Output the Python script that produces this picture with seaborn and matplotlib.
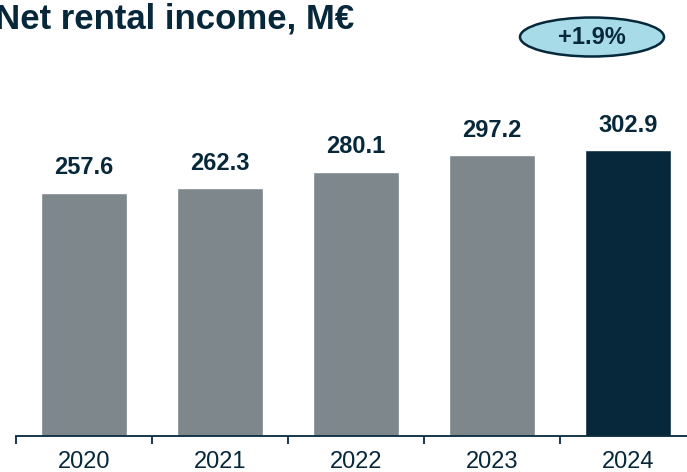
import matplotlib
matplotlib.use("Agg")
import matplotlib.pyplot as plt
import seaborn as sns
import pandas as pd
from matplotlib.patches import Ellipse
from matplotlib.ticker import FixedLocator

years = ["2020", "2021", "2022", "2023", "2024"]
income = [257.6, 262.3, 280.1, 297.2, 302.9]
highlight = ["past", "past", "past", "past", "current"]
growth_label = "+1.9%"

navy = "#06283a"
grey = "#7e878c"

df = pd.DataFrame({"year": years, "income": income, "kind": highlight})

sns.set_style("white")
plt.rcParams["font.family"] = ["Liberation Sans", "DejaVu Sans"]

fig = plt.figure(figsize=(6.87, 4.72), dpi=100)
W, H = 687, 472
ax = fig.add_axes([16 / W, 36 / H, 680 / W, 436 / H])

sns.barplot(data=df, x="year", y="income", hue="kind", dodge=False,
            palette={"past": grey, "current": navy}, width=0.63,
            legend=False, ax=ax, saturation=1)

ax.set_xlim(-0.5, 4.5)
ax.set_ylim(0, 436 / 0.944)

for i, v in enumerate(income):
    ax.annotate(f"{v:.1f}", (i, v), xytext=(0, 18), textcoords="offset points",
                ha="center", va="center", fontsize=17, fontweight="bold", color=navy)

for s in ["top", "right", "left"]:
    ax.spines[s].set_visible(False)
ax.spines["bottom"].set_color(navy)
ax.spines["bottom"].set_linewidth(1.3)
ax.set_yticks([])
ax.set_xlabel("")
ax.set_ylabel("")
ax.tick_params(axis="x", which="major", length=0, pad=11, labelsize=17, labelcolor=navy)
ax.xaxis.set_minor_locator(FixedLocator([-0.5, 0.5, 1.5, 2.5, 3.5, 4.5]))
ax.tick_params(axis="x", which="minor", length=6, width=1.3, color=navy, direction="out", bottom=True)

fig.text(-0.008, 0.96, "Net rental income, M€", fontsize=25, fontweight="bold",
         color=navy, ha="left", va="center")

badge = Ellipse((592 / W, 1 - 37 / H), 144 / W, 39 / H, transform=fig.transFigure,
                facecolor="#a6dbe7", edgecolor=navy, linewidth=1.8)
fig.add_artist(badge)
fig.text(592 / W, 1 - 37 / H, growth_label, fontsize=17, fontweight="bold",
         color=navy, ha="center", va="center")

fig.savefig("out.png", dpi=100)
